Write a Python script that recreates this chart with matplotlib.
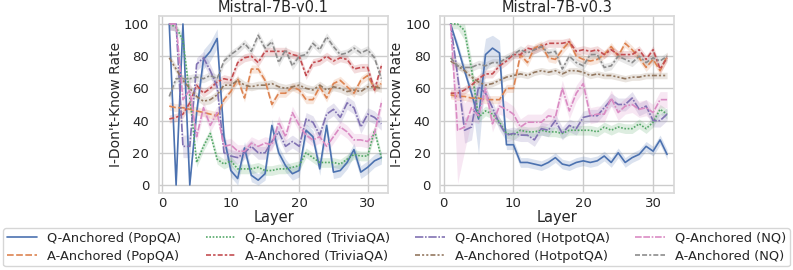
"""Two-panel I-Don't-Know rate by layer for Mistral-7B v0.1 / v0.3."""

import matplotlib
matplotlib.use("Agg")
import matplotlib.pyplot as plt
import numpy as np
import seaborn as sns

layers = np.arange(1, 33)

series_names = [
    "Q-Anchored (PopQA)", "A-Anchored (PopQA)",
    "Q-Anchored (TriviaQA)", "A-Anchored (TriviaQA)",
    "Q-Anchored (HotpotQA)", "A-Anchored (HotpotQA)",
    "Q-Anchored (NQ)", "A-Anchored (NQ)",
]

titles = ["Mistral-7B-v0.1", "Mistral-7B-v0.3"]

# --- Mistral-7B-v0.1 ---
v01_q_popqa = [100, 0, 100, 0, 45, 78, 83, 91, 30, 9, 4, 23, 6, 3, 7, 37,
               20, 12, 7, 9, 34, 30, 10, 37, 8, 9, 14, 22, 8, 11, 15, 17]
v01_a_popqa = [49, 48, 48, 47, 46, 45, 44, 43, 53, 58, 66, 54, 72, 72, 65, 50,
               57, 57, 61, 59, 53, 53, 61, 54, 63, 65, 61, 57, 65, 68, 60, 63]
v01_q_trivia = [100, 98, 90, 55, 14, 24, 32, 16, 13, 15, 10, 10, 10, 11, 9, 9,
                10, 10, 11, 12, 20, 17, 14, 14, 14, 13, 16, 19, 18, 18, 34, 17]
v01_a_trivia = [41, 42, 44, 51, 62, 57, 60, 64, 66, 65, 76, 79, 80, 76, 83, 83,
                83, 83, 81, 80, 68, 76, 77, 80, 77, 79, 78, 72, 73, 73, 59, 74]
v01_q_hotpot = [100, 100, 24, 24, 75, 79, 71, 61, 20, 18, 17, 20, 24, 20, 20, 27,
                33, 24, 27, 24, 41, 39, 31, 44, 47, 42, 51, 48, 36, 44, 42, 38]
v01_a_hotpot = [79, 72, 65, 60, 55, 52, 53, 56, 62, 62, 65, 62, 61, 62, 62, 63,
                61, 60, 61, 62, 60, 59, 62, 59, 61, 60, 58, 59, 58, 61, 61, 60]
v01_q_nq = [100, 100, 53, 59, 30, 48, 37, 45, 24, 25, 21, 21, 26, 24, 26, 25,
            39, 30, 45, 37, 31, 28, 30, 24, 30, 36, 33, 28, 28, 27, 32, 51]
v01_a_nq = [55, 66, 66, 66, 67, 66, 68, 66, 77, 81, 84, 88, 83, 93, 85, 89,
            76, 84, 74, 80, 81, 88, 84, 92, 86, 81, 82, 85, 82, 84, 79, 66]

# --- Mistral-7B-v0.3 ---
v03_q_popqa = [100, 86, 71, 57, 41, 81, 85, 82, 25, 25, 14, 14, 13, 12, 14, 17,
               13, 12, 14, 15, 14, 15, 18, 14, 20, 14, 17, 19, 24, 21, 28, 19]
v03_a_popqa = [56, 55, 55, 54, 54, 53, 53, 53, 60, 60, 81, 76, 85, 87, 79, 78,
               84, 89, 80, 78, 77, 78, 81, 86, 80, 88, 84, 79, 73, 78, 71, 80]
v03_q_trivia = [100, 100, 96, 72, 42, 46, 44, 39, 32, 31, 34, 33, 33, 34, 33, 33,
                32, 34, 34, 34, 34, 33, 36, 34, 36, 35, 35, 38, 35, 39, 47, 44]
v03_a_trivia = [57, 57, 59, 62, 66, 69, 69, 74, 77, 81, 81, 85, 84, 86, 88, 88,
                88, 89, 83, 84, 83, 84, 81, 84, 81, 81, 81, 84, 78, 84, 72, 79]
v03_q_hotpot = [100, 68, 34, 36, 61, 57, 48, 38, 31, 32, 31, 31, 28, 35, 34, 40,
                32, 37, 35, 42, 43, 43, 48, 53, 50, 50, 54, 47, 49, 40, 40, 44]
v03_a_hotpot = [77, 74, 71, 67, 64, 62, 63, 65, 67, 68, 69, 68, 70, 71, 70, 71,
                69, 71, 71, 70, 68, 69, 68, 68, 67, 66, 67, 67, 68, 68, 68, 68]
v03_q_nq = [100, 34, 36, 48, 43, 60, 38, 49, 47, 44, 36, 39, 39, 39, 43, 42,
            60, 46, 57, 63, 43, 44, 44, 54, 45, 49, 50, 47, 48, 45, 53, 53]
v03_a_nq = [79, 74, 73, 73, 75, 74, 76, 76, 79, 81, 84, 82, 84, 86, 82, 83,
            72, 80, 76, 74, 81, 81, 73, 74, 80, 78, 76, 80, 76, 79, 77, 80]

panels = [
    [v01_q_popqa, v01_a_popqa, v01_q_trivia, v01_a_trivia,
     v01_q_hotpot, v01_a_hotpot, v01_q_nq, v01_a_nq],
    [v03_q_popqa, v03_a_popqa, v03_q_trivia, v03_a_trivia,
     v03_q_hotpot, v03_a_hotpot, v03_q_nq, v03_a_nq],
]

# half-width of the shaded interval (typical, then a few wide spots)
band_base = [[4, 2.5, 3, 2.5, 4, 2.5, 4, 2.5],
             [3, 2.5, 3, 2.5, 4, 2, 5, 2.5]]
band_wide = [
    {0: {6: 6, 7: 6, 8: 6}, 4: {3: 7, 4: 7}, 6: {3: 7, 4: 8}},
    {0: {5: 22, 6: 10, 7: 8, 8: 8}, 6: {2: 33, 3: 15, 4: 8}, 4: {3: 8, 4: 8},
     2: {3: 6, 4: 6}},
]

sns.set_theme(style="whitegrid")
plt.rcParams["font.family"] = ["DejaVu Sans"]

colors = sns.color_palette("deep", 8)
dashes = ["", (4, 1.5), (1, 1), (3, 1.25, 1.5, 1.25), (5, 1, 1, 1),
          (3, 1.25, 1.25, 1.25, 1.25, 1.25), (4, 1, 4, 1, 1, 1),
          (3, 1.25, 3, 1.25, 1.25, 1.25)]

fig = plt.figure(figsize=(7.93, 2.70), dpi=100)
ax_pos = [[0.2005, 0.285, 0.289, 0.656], [0.555, 0.285, 0.295, 0.656]]

handles = []
for p, vals in enumerate(panels):
    ax = fig.add_axes(ax_pos[p])
    for i, y in enumerate(vals):
        y = np.asarray(y, dtype=float)
        hw = np.full(len(y), band_base[p][i], dtype=float)
        for lay, w in band_wide[p].get(i, {}).items():
            hw[lay - 1] = w
        ax.fill_between(layers, np.clip(y - hw, 0, 100), np.clip(y + hw, 0, 100),
                        color=colors[i], alpha=0.2, lw=0)
        line, = ax.plot(layers, y, color=colors[i], lw=1.2, label=series_names[i])
        if dashes[i]:
            line.set_dashes(dashes[i])
        if p == 0:
            handles.append(line)
    ax.set_xlim(-0.5, 33.0)
    ax.set_ylim(-5, 105)
    ax.set_xticks([0, 10, 20, 30])
    ax.set_yticks([0, 20, 40, 60, 80, 100])
    ax.tick_params(axis="x", labelsize=9.5, length=0, pad=3)
    ax.tick_params(axis="y", labelsize=9.5, length=0, pad=7)
    ax.set_xlabel("Layer", fontsize=10.5, labelpad=0)
    ax.set_ylabel("I-Don't-Know Rate", fontsize=10, labelpad=1)
    ax.set_title(titles[p], fontsize=10.5, pad=3)
    for s in ax.spines.values():
        s.set_color("#d8d8d8")

fig.legend(handles=handles, loc="upper center", bbox_to_anchor=(0.5, 0.165),
           ncol=4, fontsize=9.4, frameon=True, columnspacing=1.9,
           handlelength=2.3, handletextpad=0.75, borderpad=0.3,
           borderaxespad=0.2, labelspacing=0.35)

fig.savefig("out.png", dpi=100)
plt.close(fig)
